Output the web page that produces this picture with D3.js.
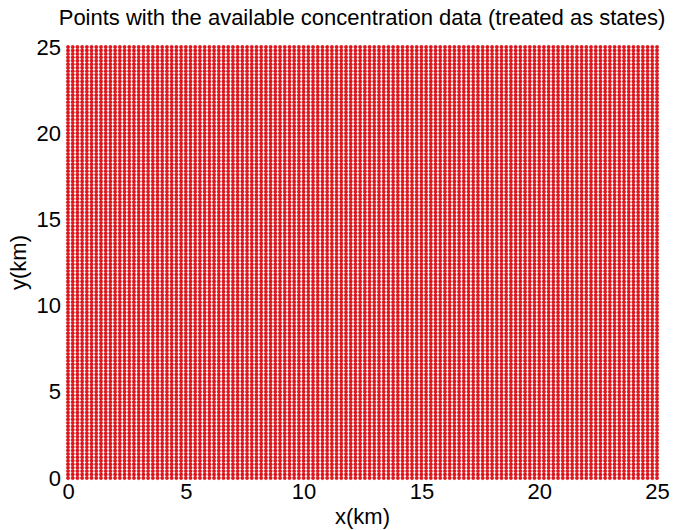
<!DOCTYPE html>
<html>
<head>
<meta charset="utf-8">
<script src="https://cdn.jsdelivr.net/npm/d3@7"></script>
<style>
  body { margin: 0; background: #fff; }
  text { font-family: "Liberation Sans", Arial, sans-serif; }
</style>
</head>
<body>
<svg id="chart"></svg>
<script>
// grid of measurement points, 0..25 km every 0.2 km, in both directions
const GRID_STEP = 0.2;
const xKm = d3.range(0, 125 + 1).map((i) => +(i * GRID_STEP).toFixed(1));
const yKm = d3.range(0, 125 + 1).map((i) => +(i * GRID_STEP).toFixed(1));
const xTicks = [0, 5, 10, 15, 20, 25];
const yTicks = [0, 5, 10, 15, 20, 25];

const WIDTH = 677;
const HEIGHT = 530;
const margin = { left: 68, right: 20, top: 47, bottom: 52 };

const svg = d3.select("#chart").attr("width", WIDTH).attr("height", HEIGHT);

const xScale = d3.scaleLinear().domain([0, 25]).range([margin.left, WIDTH - margin.right]);
const yScale = d3.scaleLinear().domain([0, 25]).range([HEIGHT - margin.bottom, margin.top]);

const points = [];
xKm.forEach((x) => yKm.forEach((y) => points.push({ x, y })));

svg.append("g")
  .selectAll("circle")
  .data(points)
  .enter()
  .append("circle")
  .attr("cx", (d) => xScale(d.x))
  .attr("cy", (d) => yScale(d.y))
  .attr("r", 1.7)
  .attr("fill", "#ea1219")
  .attr("stroke", "#b8000a")
  .attr("stroke-width", 0.4);

const xAxis = d3.axisBottom(xScale).tickValues(xTicks).tickSize(0).tickPadding(5);
const yAxis = d3.axisLeft(yScale).tickValues(yTicks).tickSize(0).tickPadding(7);

const gx = svg.append("g")
  .attr("transform", "translate(0," + (HEIGHT - margin.bottom) + ")")
  .call(xAxis);
const gy = svg.append("g")
  .attr("transform", "translate(" + margin.left + ",0)")
  .call(yAxis);

[gx, gy].forEach((g) => {
  g.select(".domain").remove();
  g.selectAll("text").attr("font-size", 22).attr("fill", "#000")
    .style("font-family", "'Liberation Sans', Arial, sans-serif");
});

svg.append("text")
  .attr("x", (margin.left + WIDTH - margin.right) / 2)
  .attr("y", HEIGHT - 6)
  .attr("text-anchor", "middle")
  .attr("font-size", 22)
  .text("x(km)");

svg.append("text")
  .attr("transform", "translate(26," + (margin.top + HEIGHT - margin.bottom) / 2 + ") rotate(-90)")
  .attr("text-anchor", "middle")
  .attr("font-size", 22)
  .text("y(km)");

svg.append("text")
  .attr("x", 362)
  .attr("y", 25)
  .attr("text-anchor", "middle")
  .attr("font-size", 22)
  .text("Points with the available concentration data (treated as states)");
</script>
</body>
</html>
